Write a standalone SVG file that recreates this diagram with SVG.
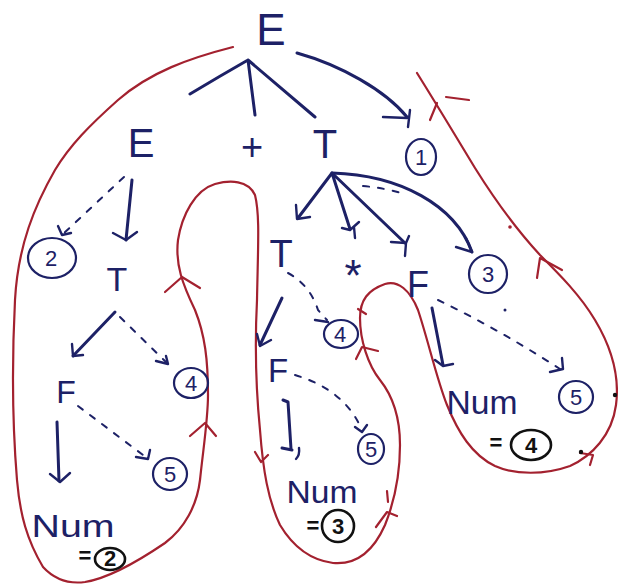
<svg xmlns="http://www.w3.org/2000/svg" width="618" height="584" viewBox="0 0 618 584">
  <defs>
    <style>
      .sym { font-family: "Liberation Sans", Arial, sans-serif; fill: #1d2166; text-anchor: middle; }
      .lbl { font-family: "Liberation Sans", Arial, sans-serif; fill: #1d2166; text-anchor: middle; font-size: 22px; }
      .lblk { font-family: "Liberation Sans", Arial, sans-serif; fill: #111111; text-anchor: middle; font-size: 22px; font-weight: bold; }
      .ring { fill: none; stroke: #1d2166; stroke-width: 2.2; }
      .ringk { fill: none; stroke: #111111; stroke-width: 2.6; }
      .edge { fill: none; stroke: #1d2166; stroke-width: 3; stroke-linecap: round; stroke-linejoin: round; }
      .dash { fill: none; stroke: #1d2166; stroke-width: 2; stroke-linecap: round; stroke-dasharray: 6 9; }
      .head { fill: none; stroke: #1d2166; stroke-width: 2.4; stroke-linecap: round; stroke-linejoin: round; }
      .tour { fill: none; stroke: #a3212f; stroke-width: 2.2; stroke-linecap: round; stroke-linejoin: round; }
    </style>
  </defs>

  <rect width="618" height="584" fill="#ffffff"/>

  <!-- Euler-tour contour around the parse tree -->
  <g id="tour">
    <path class="tour" d="M233,47 C190,58 150,72 118,100 C90,125 70,145 55,170 C35,205 18,245 15,300 C12,360 12,420 17,480 C20,515 27,540 43,567 C55,580 70,584 85,582 C110,578 140,560 165,543 C185,528 197,505 200,480 C203,450 208,420 208,395 C208,360 205,335 195,310 C183,285 175,265 178,240 C182,215 195,190 215,184 C230,180 248,180 255,195 C260,215 258,245 257,300 C255,340 255,380 260,430 C263,470 268,500 280,525 C292,545 310,560 333,563 C355,565 373,552 385,525 C395,500 400,470 400,445 C400,415 392,395 380,380 C368,365 360,340 360,318 C360,300 368,290 385,284 C398,280 410,290 418,310 C428,340 437,380 447,405 C458,432 472,455 495,466 C515,475 545,475 570,466 C592,456 612,435 616,405 C620,375 610,345 595,320 C580,295 560,275 540,255 C515,228 495,200 475,168 C455,135 437,105 417,73"/>
    <!-- direction ticks along the contour -->
    <path class="tour" d="M165,292 L182,277 L200,288"/>
    <path class="tour" d="M190,436 L205,423 L216,436"/>
    <path class="tour" d="M255,452 L261,462 L268,455"/>
    <path class="tour" d="M376,527 L387,512 L397,516 M387,491 L388,502"/>
    <path class="tour" d="M356,359 L362,347 L378,351 M358,309 L366,314"/>
    <path class="tour" d="M580,453 L593,455 L590,465"/>
    <path class="tour" d="M537,278 L540,258 L562,270"/>
    <path class="tour" d="M430,120 L437,103 M446,97 L469,100"/>
    <circle cx="510" cy="227" r="1.8" fill="#a3212f"/>
    <circle cx="581" cy="452" r="2.2" fill="#111111"/>
    <circle cx="615" cy="395" r="2.2" fill="#111111"/>
  </g>

  <!-- tree edges and dependency arrows -->
  <g id="connectors">
    <!-- E -> E + T -->
    <path class="edge" d="M248,60 Q220,76 190,94 M248,60 L255,115 M248,60 L315,117"/>
    <!-- E -> (1) -->
    <path class="edge" d="M297,53 C340,65 385,90 407,117"/>
    <path class="head" d="M383,117 L407,118 M410,110 L408,127"/>
    <!-- E -> T (left) -->
    <path class="edge" d="M132,180 L126,240"/>
    <path class="head" d="M113,233 L126,240 L137,232"/>
    <path class="dash" d="M124,177 L62,235"/>
    <path class="head" d="M58,226 L62,235 L71,233"/>
    <!-- T -> F (left) -->
    <path class="edge" d="M115,312 L73,356"/>
    <path class="head" d="M72,344 L73,356 L83,355"/>
    <path class="dash" d="M120,317 L166,362"/>
    <path class="head" d="M156,361 L168,364 L166,356"/>
    <!-- F -> Num (left) -->
    <path class="edge" d="M57,422 L59,481"/>
    <path class="head" d="M50,474 L60,482 L70,473"/>
    <path class="dash" d="M78,406 L147,458"/>
    <path class="head" d="M136,457 L148,459 L150,450"/>
    <!-- T -> T * F (middle) -->
    <path class="edge" d="M332,173 L298,218 M332,173 L350,229 M332,173 L405,243"/>
    <path class="head" d="M296,205 L297,219 L310,217"/>
    <path class="head" d="M342,228 L350,230 L359,222 M354,227 L355,238"/>
    <path class="head" d="M391,242 L406,243 L409,236 M406,243 L405,256"/>
    <path class="edge" d="M332,173 C400,175 455,205 472,252"/>
    <path class="head" d="M456,247 L472,252 L466,238"/>
    <path class="dash" d="M363,186 Q385,188 405,194"/>
    <!-- T -> F (middle) -->
    <path class="edge" d="M282,298 L260,345"/>
    <path class="head" d="M257,334 L260,346 L271,340"/>
    <path class="dash" d="M288,273 Q310,285 318,310 L327,320"/>
    <path class="head" d="M315,320 L328,322"/>
    <!-- F -> Num (middle) -->
    <path class="edge" d="M283,400 L288,402 L291,449 M282,448 L292,450"/>
    <path class="head" d="M299,448 Q300,455 296,459"/>
    <path class="dash" d="M295,375 Q345,390 362,430"/>
    <path class="head" d="M355,427 L362,432 L367,425"/>
    <!-- F -> Num (right) -->
    <path class="edge" d="M432,308 L443,365"/>
    <path class="head" d="M435,360 L443,366 L453,364"/>
    <path class="dash" d="M438,300 Q500,330 560,369"/>
    <path class="head" d="M550,372 L563,369 L562,358"/>
    <circle cx="505" cy="310" r="1.5" fill="#1d2166"/>
  </g>

  <!-- grammar symbols -->
  <g id="n-root"><text class="sym" x="271" y="45" font-size="44">E</text></g>
  <g id="n-e"><text class="sym" x="141" y="157" font-size="40">E</text></g>
  <g id="n-plus"><text class="sym" x="252" y="160" font-size="38">+</text></g>
  <g id="n-t"><text class="sym" x="325" y="158" font-size="40">T</text></g>
  <g id="n-t-left"><text class="sym" x="117" y="291" font-size="34">T</text></g>
  <g id="n-f-left"><text class="sym" x="66" y="403" font-size="32">F</text></g>
  <g id="n-num-left"><text class="sym" x="73" y="537" font-size="31" textLength="83" lengthAdjust="spacingAndGlyphs">Num</text></g>
  <g id="n-t-mid"><text class="sym" x="281" y="267" font-size="38">T</text></g>
  <g id="n-star"><text class="sym" x="353" y="291" font-size="44">*</text></g>
  <g id="n-f-right"><text class="sym" x="418" y="297" font-size="36">F</text></g>
  <g id="n-f-mid"><text class="sym" x="278" y="382" font-size="33">F</text></g>
  <g id="n-num-mid"><text class="sym" x="322" y="503" font-size="32" textLength="71" lengthAdjust="spacingAndGlyphs">Num</text></g>
  <g id="n-num-right"><text class="sym" x="482" y="414" font-size="34" textLength="71" lengthAdjust="spacingAndGlyphs">Num</text></g>

  <!-- step numbers -->
  <g id="s1"><ellipse class="ring" cx="421" cy="157" rx="15" ry="18"/><text class="lbl" x="421" y="165">1</text></g>
  <g id="s2"><ellipse class="ring" cx="52" cy="258" rx="24" ry="20"/><text class="lbl" x="51" y="266">2</text></g>
  <g id="s3"><ellipse class="ring" cx="488" cy="274" rx="19" ry="19"/><text class="lbl" x="488" y="282">3</text></g>
  <g id="s4-left"><ellipse class="ring" cx="191" cy="383" rx="17" ry="15"/><text class="lbl" x="191" y="391">4</text></g>
  <g id="s4-mid"><ellipse class="ring" cx="341" cy="334" rx="17" ry="14"/><text class="lbl" x="340" y="342">4</text></g>
  <g id="s5-left"><ellipse class="ring" cx="170" cy="474" rx="17" ry="16"/><text class="lbl" x="170" y="482">5</text></g>
  <g id="s5-mid"><ellipse class="ring" cx="371" cy="449" rx="13" ry="15"/><text class="lbl" x="371" y="457">5</text></g>
  <g id="s5-right"><ellipse class="ring" cx="576" cy="397" rx="17" ry="16"/><text class="lbl" x="576" y="405">5</text></g>

  <!-- token values -->
  <g id="v2"><text class="lblk" x="85" y="563">=</text><ellipse class="ringk" cx="110" cy="559" rx="15" ry="11"/><text class="lblk" x="110" y="566" font-size="18">2</text></g>
  <g id="v3"><text class="lblk" x="313" y="533">=</text><ellipse class="ringk" cx="338" cy="526" rx="16" ry="16"/><text class="lblk" x="338" y="534">3</text></g>
  <g id="v4"><text class="lblk" x="496" y="450">=</text><ellipse class="ringk" cx="531" cy="445" rx="20" ry="15"/><text class="lblk" x="531" y="453">4</text></g>
</svg>
